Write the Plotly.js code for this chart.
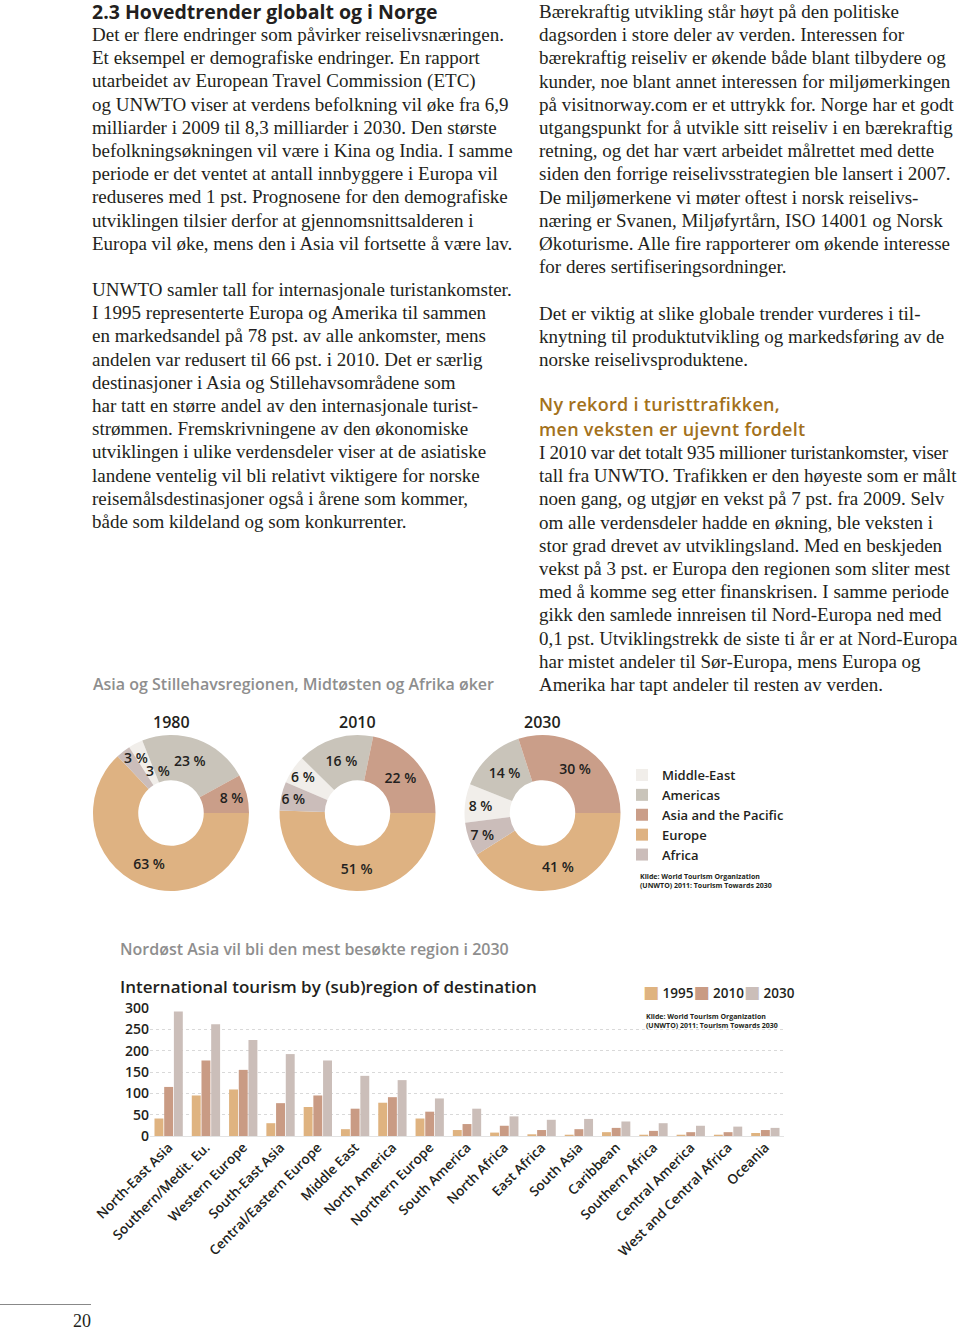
<!DOCTYPE html>
<html><head><meta charset="utf-8">
<script src="https://cdn.plot.ly/plotly-3.0.1.min.js"></script>
<style>
html,body{margin:0;padding:0;background:#fff}
body{width:960px;height:1330px;position:relative;overflow:hidden}
.s{position:absolute;font-family:"Liberation Serif",serif;font-size:19px;line-height:23.2px;color:#231f20;white-space:nowrap}
.h{position:absolute;font-family:"Open Sans",sans-serif;white-space:nowrap}
#pies{position:absolute;left:0;top:700px;width:960px;height:200px}
#bars{position:absolute;left:0;top:970px;width:960px;height:300px}
#rule{position:absolute;left:0;top:1304px;width:91px;height:1px;background:#888}
</style></head>
<body>
<div class="h" style="left:92px;top:0px;font-size:19.5px;font-weight:700;line-height:24px;color:#231f20">2.3 Hovedtrender globalt og i Norge</div>
<div class="s" style="left:92px;top:23px">Det er flere endringer som påvirker reiselivsnæringen.<br>Et eksempel er demografiske endringer. En rapport<br>utarbeidet av European Travel Commission (ETC)<br>og UNWTO viser at verdens befolkning vil øke fra 6,9<br>milliarder i 2009 til 8,3 milliarder i 2030. Den største<br>befolkningsøkningen vil være i Kina og India. I samme<br>periode er det ventet at antall innbyggere i Europa vil<br>reduseres med 1 pst. Prognosene for den demografiske<br>utviklingen tilsier derfor at gjennomsnittsalderen i<br>Europa vil øke, mens den i Asia vil fortsette å være lav.</div>
<div class="s" style="left:92px;top:278px">UNWTO samler tall for internasjonale turistankomster.<br>I 1995 representerte Europa og Amerika til sammen<br>en markedsandel på 78 pst. av alle ankomster, mens<br>andelen var redusert til 66 pst. i 2010. Det er særlig<br>destinasjoner i Asia og Stillehavsområdene som<br>har tatt en større andel av den internasjonale turist-<br>strømmen. Fremskrivningene av den økonomiske<br>utviklingen i ulike verdensdeler viser at de asiatiske<br>landene ventelig vil bli relativt viktigere for norske<br>reisemålsdestinasjoner også i årene som kommer,<br>både som kildeland og som konkurrenter.</div>
<div class="s" style="left:539px;top:0px">Bærekraftig utvikling står høyt på den politiske<br>dagsorden i store deler av verden. Interessen for<br>bærekraftig reiseliv er økende både blant tilbydere og<br>kunder, noe blant annet interessen for miljømerkingen<br>på visitnorway.com er et uttrykk for. Norge har et godt<br>utgangspunkt for å utvikle sitt reiseliv i en bærekraftig<br>retning, og det har vært arbeidet målrettet med dette<br>siden den forrige reiselivsstrategien ble lansert i 2007.<br>De miljømerkene vi møter oftest i norsk reiselivs-<br>næring er Svanen, Miljøfyrtårn, ISO 14001 og Norsk<br>Økoturisme. Alle fire rapporterer om økende interesse<br>for deres sertifiseringsordninger.</div>
<div class="s" style="left:539px;top:302px">Det er viktig at slike globale trender vurderes i til-<br>knytning til produktutvikling og markedsføring av de<br>norske reiselivsproduktene.</div>
<div class="h" style="left:539px;top:393px;font-size:18px;font-weight:600;line-height:22px;color:#A3711B;letter-spacing:0.3px">Ny rekord i turisttrafikken,</div>
<div class="h" style="left:539px;top:418px;font-size:18px;font-weight:600;line-height:22px;color:#A3711B;letter-spacing:0.3px">men veksten er ujevnt fordelt</div>
<div class="s" style="left:539px;top:441px"><span style="letter-spacing:-0.3px">I 2010 var det totalt 935 millioner turistankomster, viser</span><br>tall fra UNWTO. Trafikken er den høyeste som er målt<br>noen gang, og utgjør en vekst på 7 pst. fra 2009. Selv<br>om alle verdensdeler hadde en økning, ble veksten i<br>stor grad drevet av utviklingsland. Med en beskjeden<br>vekst på 3 pst. er Europa den regionen som sliter mest<br>med å komme seg etter finanskrisen. I samme periode<br>gikk den samlede innreisen til Nord-Europa ned med<br>0,1 pst. Utviklingstrekk de siste ti år er at Nord-Europa<br>har mistet andeler til Sør-Europa, mens Europa og<br>Amerika har tapt andeler til resten av verden.</div>
<div class="h" style="left:93px;top:673px;font-size:16px;font-weight:600;line-height:22px;color:#8e8e8e">Asia og Stillehavsregionen, Midtøsten og Afrika øker</div>
<div class="h" style="left:120px;top:938px;font-size:16px;font-weight:600;line-height:22px;color:#8e8e8e">Nordøst Asia vil bli den mest besøkte region i 2030</div>
<div id="pies"></div>
<div id="bars"></div>
<div id="rule"></div>
<div class="s" style="left:73px;top:1310px;font-size:18px">20</div>
<script>
// ---- Donut data ----
const regions = ['Middle-East', 'Americas', 'Asia and the Pacific', 'Europe', 'Africa'];
const share1980 = [3, 23, 8, 63, 3];
const share2010 = [6, 16, 22, 51, 6];
const share2030 = [8, 14, 30, 41, 7];
const pieYears = ['1980', '2010', '2030'];
const regionColors = ['#F1EEEA', '#C9C4BA', '#CA9E89', '#DEB282', '#CBBDBA'];

// ---- Bar data ----
const subregions = ['North-East Asia', 'Southern/Medit. Eu.', 'Western Europe', 'South-East Asia',
  'Central/Eastern Europe', 'Middle East', 'North America', 'Northern Europe', 'South America',
  'North Africa', 'East Africa', 'South Asia', 'Caribbean', 'Southern Africa', 'Central America',
  'West and Central Africa', 'Oceania'];
const arrivals1995 = [41, 95, 109, 30, 68, 16, 78, 41, 14, 8, 4, 3, 9, 3, 3, 3, 7];
const arrivals2010 = [115, 177, 155, 77, 95, 64, 91, 57, 28, 24, 14, 16, 19, 12, 9, 9, 14];
const arrivals2030 = [292, 262, 225, 192, 177, 141, 131, 88, 64, 46, 38, 40, 34, 30, 24, 22, 19];
const barYears = ['1995', '2010', '2030'];
const barColors = ['#DFB380', '#C99B84', '#CBBEB9'];

const SANS = 'Open Sans, sans-serif';
const INK = '#231f20';
const SOURCE = 'Kilde: World Tourism Organization<br>(UNWTO) 2011: Tourism Towards 2030';

// ---- Donuts ----
const pieShares = [share1980, share2010, share2030];
const pieDomainsX = [[93/960, 249/960], [279.5/960, 435.5/960], [464.5/960, 620.5/960]];
const pieDomainY = [0.045, 0.825];
// the two thin 1980 slices (Middle-East, Africa) get their labels as annotations, as in the original
const crowded = {0: [0, 4]};
const pieTraces = pieShares.map((vals, i) => {
  const total = vals.reduce((a, b) => a + b, 0);
  const before = vals[0] + vals[1] + vals[2];
  const skip = crowded[i] || [];
  return {
    type: 'pie', values: vals, labels: regions, sort: false, direction: 'clockwise',
    rotation: 90 - 360 * before / total,
    hole: 0.42,
    marker: {colors: regionColors, line: {width: 0}},
    text: vals.map((v, j) => skip.includes(j) ? '' : v + ' %'), textinfo: 'text', textposition: 'inside',
    insidetextorientation: 'horizontal',
    textfont: {family: SANS, size: 14, weight: 600, color: INK},
    domain: {x: pieDomainsX[i], y: pieDomainY},
    showlegend: i === 0, hoverinfo: 'skip'
  };
});
const labelFont = {family: SANS, size: 14, weight: 600, color: INK};
const pieAnn = pieYears.map((y, i) => ({
  text: y, x: (pieDomainsX[i][0] + pieDomainsX[i][1]) / 2, y: 0.89, xref: 'paper', yref: 'paper',
  showarrow: false, xanchor: 'center', yanchor: 'middle',
  font: {family: SANS, size: 16, weight: 600, color: INK}
}));
pieAnn.push({text: share1980[4] + ' %', x: 136/960, y: 0.715, xref: 'paper', yref: 'paper',
  showarrow: false, xanchor: 'center', yanchor: 'middle', font: labelFont});
pieAnn.push({text: share1980[0] + ' %', x: 158/960, y: 0.65, xref: 'paper', yref: 'paper',
  showarrow: false, xanchor: 'center', yanchor: 'middle', font: labelFont});
pieAnn.push({
  text: SOURCE, x: 638/960, y: 0.095, xref: 'paper', yref: 'paper', showarrow: false,
  xanchor: 'left', yanchor: 'middle', align: 'left', font: {family: SANS, size: 7, weight: 700, color: INK}
});
Plotly.newPlot('pies', pieTraces, {
  width: 960, height: 200, margin: {l: 0, r: 0, t: 0, b: 0},
  paper_bgcolor: 'rgba(0,0,0,0)',
  uniformtext: {mode: 'show', minsize: 14},
  legend: {x: 622/960, y: 0.70, xanchor: 'left', yanchor: 'top', traceorder: 'normal',
    font: {family: SANS, size: 13, weight: 600, color: INK}, itemwidth: 30},
  annotations: pieAnn
}, {staticPlot: true, displayModeBar: false});

// ---- Bars ----
const barSeries = [arrivals1995, arrivals2010, arrivals2030];
const barTraces = barSeries.map((vals, i) => ({
  type: 'bar', x: subregions, y: vals, name: barYears[i], showlegend: false,
  marker: {color: barColors[i], line: {width: 0}}, hoverinfo: 'skip'
}));
// compact key, laid out like the original (swatch directly followed by year)
const barKey = barYears.map((y, i) =>
  '<span style="color:' + barColors[i] + ';font-family:DejaVu Sans;font-size:17px">■</span> ' + y).join('');
Plotly.newPlot('bars', barTraces, {
  width: 960, height: 300, margin: {l: 150, r: 176, t: 38, b: 134},
  paper_bgcolor: 'rgba(0,0,0,0)', plot_bgcolor: 'rgba(0,0,0,0)',
  barmode: 'group', bargap: 0.22, bargroupgap: 0.08,
  title: {text: 'International tourism by (sub)region of destination', xref: 'container', yref: 'container',
    x: 120/960, xanchor: 'left', y: 1 - 17/300, yanchor: 'middle',
    font: {family: SANS, size: 17, weight: 600, color: INK}},
  xaxis: {type: 'category', tickangle: -45, ticks: '', showgrid: false, showline: false, zeroline: false,
    tickfont: {family: SANS, size: 13.5, weight: 600, color: INK}},
  yaxis: {range: [0, 300], dtick: 50, ticks: '', showline: false, gridcolor: '#d9d9d9', griddash: 'dot',
    zeroline: true, zerolinecolor: '#e3e3e3', zerolinewidth: 1,
    tickfont: {family: SANS, size: 14, weight: 600, color: INK}},
  annotations: [{
    text: barKey, x: (641 - 150) / 634, y: (166 - 22) / 128, xref: 'paper', yref: 'paper', showarrow: false,
    xanchor: 'left', yanchor: 'middle', font: {family: SANS, size: 13.5, weight: 600, color: INK}
  }, {
    text: SOURCE, x: (644 - 150) / 634, y: (166 - 50.5) / 128, xref: 'paper', yref: 'paper', showarrow: false,
    xanchor: 'left', yanchor: 'middle', align: 'left',
    font: {family: SANS, size: 7, weight: 700, color: INK}
  }]
}, {staticPlot: true, displayModeBar: false});
</script>
</body></html>
